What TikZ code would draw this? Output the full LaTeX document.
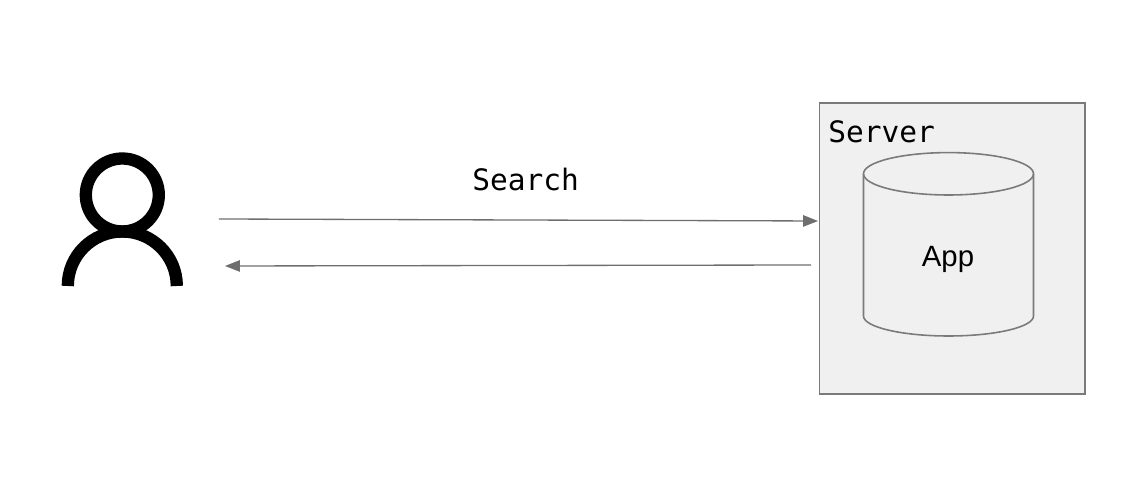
\documentclass[tikz,border=0pt]{standalone}
\usepackage{fontspec}
\setmainfont{Liberation Sans}
\setmonofont{DejaVu Sans Mono}
\usetikzlibrary{arrows.meta}
\definecolor{boxgrey}{HTML}{F0F0F0}
\definecolor{edgegrey}{HTML}{7A7A7A}
\definecolor{flowgrey}{HTML}{6E6E6E}
\tikzset{
  flow/.style={draw=flowgrey,line width=0.75pt,-{Triangle[length=8.5pt,width=6.5pt]}},
  monolabel/.style={font=\ttfamily\fontsize{16.8}{18}\selectfont,text=black,inner sep=0pt,anchor=base west},
  person/.style={draw=black,line width=7pt},
  outline/.style={draw=edgegrey,line width=0.9pt}
}
\begin{document}
\begin{tikzpicture}[x=0.02cm,y=0.02cm]
    \useasboundingbox (0,0) rectangle (1132,486);

    % user icon
    \node[minimum width=2.42cm,minimum height=2.66cm,inner sep=0pt,outer sep=0pt] (user) at (122.2,266.5) {};
    \node[person,circle,minimum size=1.46cm,inner sep=0pt,outer sep=0pt] (head) at (122.3,291) {};
    \draw[person] (67.8,200) arc (180:0:54.5);

    % server with the app inside
    \node[outline,fill=boxgrey,minimum width=5.31cm,minimum height=5.82cm,inner sep=0pt,outer sep=0pt] (server) at (952.25,237.5) {};
    \node[monolabel] (serverlabel) at (828,343.5) {Server};
    \draw[outline] (863.5,312.2) arc (180:-180:85 and 21.2);
    \draw[outline] (863.5,312.2) -- (863.5,170) arc (180:360:85 and 20) -- (1033.5,312.2);
    \node[font=\fontsize{16.7}{18}\selectfont,inner sep=0pt,anchor=base] (applabel) at (948,219.3) {App};

    % requests and replies
    \node[monolabel] (searchlabel) at (472,295) {Search};
    \draw[flow] ([shift={(36.3,0.5)}]user.east) -- ([shift={(-1.5,27.5)}]server.west);
    \draw[flow] ([shift={(-8.5,-16.5)}]server.west) -- ([shift={(42.3,-46.5)}]user.east);
\end{tikzpicture}
\end{document}
